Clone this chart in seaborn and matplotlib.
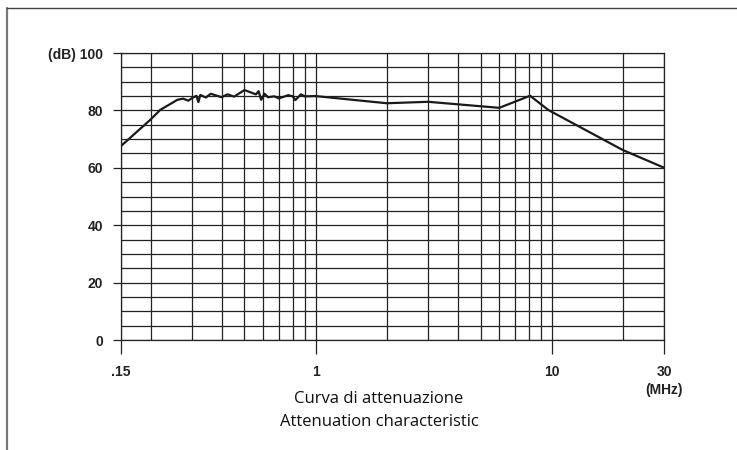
import matplotlib
matplotlib.use("Agg")
import matplotlib.pyplot as plt
from matplotlib.ticker import FixedLocator, MultipleLocator, NullFormatter
from matplotlib.lines import Line2D
import seaborn as sns
import pandas as pd

# curva di attenuazione (MHz, dB)
freq = [0.15, 0.20, 0.22, 0.26, 0.275, 0.289, 0.30, 0.313, 0.319, 0.325,
        0.343, 0.36, 0.40, 0.424, 0.452, 0.50, 0.559, 0.574, 0.588, 0.608,
        0.629, 0.669, 0.70, 0.735, 0.766, 0.80, 0.821, 0.867, 0.90, 1.0,
        2.0, 3.0, 6.0, 8.1, 9.7, 20.0, 30.0]
att = [67.6, 76.8, 80.2, 83.7, 84.1, 83.4, 84.3, 85.1, 82.9, 85.4,
       84.5, 85.8, 84.6, 85.6, 84.8, 87.1, 85.6, 86.7, 83.7, 85.8,
       84.6, 84.9, 84.2, 84.8, 85.3, 84.9, 83.6, 85.6, 84.9, 85.0,
       82.5, 83.0, 80.9, 85.1, 80.1, 66.2, 60.0]

x_major = [0.15, 1, 10, 30]
x_labels = [".15", "1", "10", "30"]
x_minor = [0.2, 0.3, 0.4, 0.5, 0.6, 0.7, 0.8, 0.9,
           2, 3, 4, 5, 6, 7, 8, 9, 20]
y_major = [0, 20, 40, 60, 80, 100]
y_labels = ["0", "20", "40", "60", "80", "(dB) 100"]

df = pd.DataFrame({"freq": freq, "att": att})

sns.set_style("white")
plt.rcParams["font.family"] = ["Liberation Sans", "DejaVu Sans"]

fig = plt.figure(figsize=(7.37, 4.5), dpi=100)
ax = fig.add_axes([0.1642, 0.2444, 0.9014 - 0.1642, 0.8822 - 0.2444])
ax.set_xscale("log")

sns.lineplot(data=df, x="freq", y="att", ax=ax, color="#1a1a1a",
             linewidth=1.6, sort=False, estimator=None)

ax.set_xlim(0.15, 30)
ax.set_ylim(0, 100)
ax.xaxis.set_major_locator(FixedLocator(x_major))
ax.xaxis.set_minor_locator(FixedLocator(x_minor))
ax.xaxis.set_minor_formatter(NullFormatter())
ax.set_xticklabels(x_labels)
ax.yaxis.set_major_locator(FixedLocator(y_major))
ax.yaxis.set_minor_locator(MultipleLocator(5))
ax.set_yticklabels(y_labels)

ax.grid(which="both", color="#222222", linewidth=0.9)
for s in ax.spines.values():
    s.set_color("#222222")
    s.set_linewidth(0.9)

ax.tick_params(axis="x", which="major", bottom=True, direction="out",
               length=10, width=0.9, color="#222222", pad=8, labelsize=10)
ax.tick_params(axis="y", which="major", left=True, direction="out",
               length=6, width=0.9, color="#222222", pad=7, labelsize=10)
ax.tick_params(which="minor", length=0)
for lab in ax.get_xticklabels() + ax.get_yticklabels():
    lab.set_fontweight("bold")
    lab.set_color("#222222")

ax.set_xlabel("")
ax.set_ylabel("")

ax.text(30, -17.5, "(MHz)", transform=ax.transData, ha="center", va="center",
        fontsize=10, fontweight="bold", color="#222222")

fig.text(379 / 737, 1 - 399 / 450, "Curva di attenuazione", ha="center",
         va="center", fontsize=12, family=["Open Sans", "DejaVu Sans"],
         color="#111111")
fig.text(379 / 737, 1 - 422 / 450, "Attenuation characteristic", ha="center",
         va="center", fontsize=12, family=["Open Sans", "DejaVu Sans"],
         color="#111111")

# cornice esterna
fig.add_artist(Line2D([7 / 737, 7 / 737], [0, 1 - 8 / 450], color="#777777",
                      linewidth=1.6))
fig.add_artist(Line2D([7 / 737, 1], [1 - 8 / 450, 1 - 8 / 450], color="#444444",
                      linewidth=1.0))

fig.savefig("out.png", dpi=100)
